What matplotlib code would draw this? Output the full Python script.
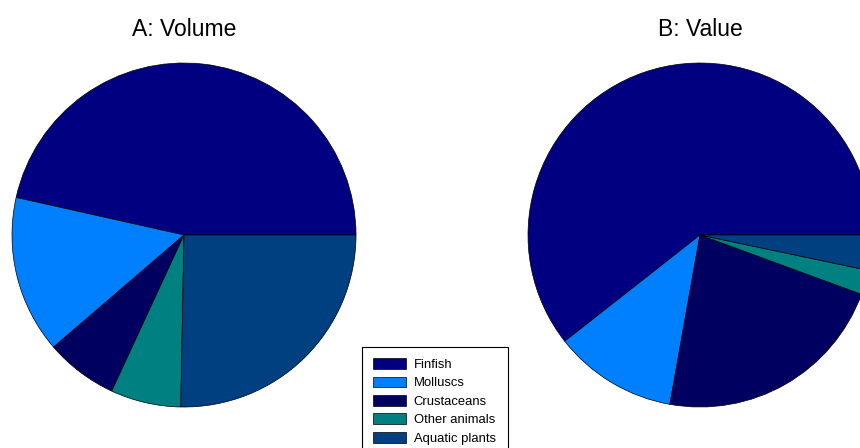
import matplotlib.pyplot as plt
from matplotlib.patches import Patch

plt.rcParams['font.family'] = ['Liberation Sans', 'DejaVu Sans']

categories = ['Finfish', 'Molluscs', 'Crustaceans', 'Other animals', 'Aquatic plants']
volume = [46.5, 14.8, 6.8, 6.6, 25.3]
value = [60.6, 11.6, 22.2, 2.3, 3.3]
colors = ['#000080', '#0080ff', '#000060', '#008080', '#004080']
titles = ['A: Volume', 'B: Value']

W, H = 860, 448
fig = plt.figure(figsize=(W / 100, H / 100), dpi=100)

# pie centres and radius in pixels
R = 172
centres = [(184, 235), (700, 235)]

for (cx, cy), data, title in zip(centres, [volume, value], titles):
    ax = fig.add_axes([(cx - R) / W, (H - cy - R) / H, 2 * R / W, 2 * R / H])
    ax.pie(data, colors=colors, startangle=0, counterclock=True,
           wedgeprops=dict(edgecolor='black', linewidth=0.5))
    ax.set_xlim(-1, 1)
    ax.set_ylim(-1, 1)
    ax.set_aspect('equal')
    ax.axis('off')
    fig.text(cx / W, 1 - 29 / H, title, ha='center', va='center', fontsize=16.5)

handles = [Patch(facecolor=c, edgecolor='black', linewidth=0.5) for c in colors]
leg = fig.legend(handles, categories, loc='upper left', mode='expand',
                 bbox_to_anchor=(362 / W, 1 - 347 / H - 0.01, 146 / W, 0.01), fontsize=9.4,
                 handlelength=2.5, handleheight=0.9, labelspacing=0.42,
                 handletextpad=0.6, borderpad=0.85, borderaxespad=0,
                 fancybox=False, framealpha=1)
leg.get_frame().set_edgecolor('black')
leg.get_frame().set_linewidth(0.8)

fig.savefig('out.png', dpi=100)
